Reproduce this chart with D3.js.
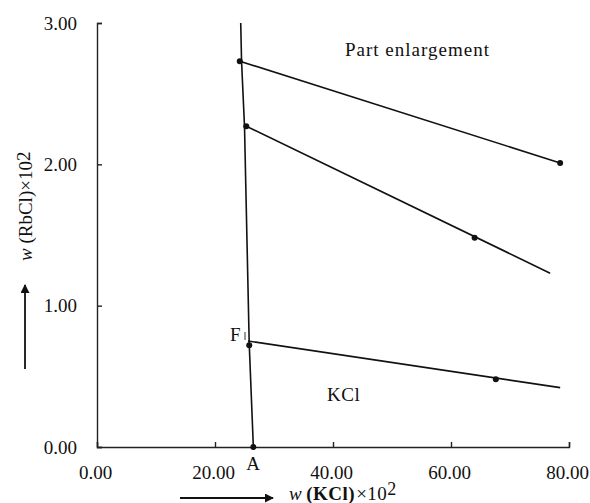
<!DOCTYPE html>
<html>
<head>
<meta charset="utf-8">
<script src="https://cdn.jsdelivr.net/npm/d3@7"></script>
<style>
  body { margin: 0; background: #fff; }
</style>
</head>
<body>
<svg width="590" height="503"></svg>
<script>
// axis ticks
const xTicks = [0, 20, 40, 60, 80];
const yTicks = [0, 1, 2, 3];

// solubility curve (near vertical, through F down to A)
const curveX = [24.36, 24.5, 25.0, 25.8, 26.5];
const curveY = [3.0, 2.73, 2.27, 0.73, 0];

// tie lines
const tieStartX = [24.2, 25.3, 25.6];
const tieStartY = [2.73, 2.27, 0.75];
const tieEndX = [78.5, 76.8, 78.5];
const tieEndY = [2.01, 1.23, 0.42];

// measured points
const pointX = [24.2, 25.3, 25.8, 26.5, 78.5, 64.0, 67.6];
const pointY = [2.73, 2.27, 0.72, 0, 2.01, 1.48, 0.48];

const svg = d3.select("svg");
const x = d3.scaleLinear().domain([0, 80]).range([97, 569]);
const y = d3.scaleLinear().domain([0, 3]).range([447, 23]);
const FONT = '"Liberation Serif", "Times New Roman", serif';
const FS = "19px";

// 축
svg.append("g")
  .attr("transform", `translate(0,${y(0)})`)
  .call(d3.axisBottom(x).tickValues(xTicks).tickFormat(d3.format(".2f"))
    .tickSizeInner(-5).tickSizeOuter(-5).tickPadding(19))
  .call(g => g.attr("font-family", FONT).selectAll("text")
    .style("font-family", FONT).style("font-size", FS).attr("fill", "#111").attr("dx", "-2"));

svg.append("g")
  .attr("transform", `translate(${x(0)},0)`)
  .call(d3.axisLeft(y).tickValues(yTicks).tickFormat(d3.format(".2f"))
    .tickSizeInner(-5).tickSizeOuter(-5).tickPadding(20))
  .call(g => g.attr("font-family", FONT).selectAll("text")
    .style("font-family", FONT).style("font-size", FS).attr("fill", "#111"));

svg.selectAll(".domain, .tick line").attr("stroke", "#222").attr("stroke-width", 1.4);

// 용해도 곡선
const line = d3.line().x(d => x(d[0])).y(d => y(d[1]));
svg.append("path")
  .datum(d3.zip(curveX, curveY))
  .attr("d", line)
  .attr("fill", "none")
  .attr("stroke", "#111")
  .attr("stroke-width", 1.6);

// tie lines
svg.selectAll(".tie")
  .data(d3.range(tieStartX.length))
  .enter()
  .append("line")
  .attr("x1", i => x(tieStartX[i]))
  .attr("y1", i => y(tieStartY[i]))
  .attr("x2", i => x(tieEndX[i]))
  .attr("y2", i => y(tieEndY[i]))
  .attr("stroke", "#111")
  .attr("stroke-width", 1.6);

svg.selectAll(".pt")
  .data(d3.zip(pointX, pointY))
  .enter()
  .append("circle")
  .attr("cx", d => x(d[0]))
  .attr("cy", d => y(d[1]))
  .attr("r", 3)
  .attr("fill", "#111");

// labels
const label = (tx, ty, s) =>
  svg.append("text").attr("x", tx).attr("y", ty)
    .style("font-family", FONT).style("font-size", FS).attr("fill", "#111").text(s);

label(345, 56, "Part enlargement").style("letter-spacing", "1px");
label(327, 401, "KCl").style("letter-spacing", "0.5px");
label(230, 341, "F");
label(253, 470, "A").attr("text-anchor", "middle");
// small mark beside F
svg.append("line").attr("x1", 245).attr("y1", 332).attr("x2", 245).attr("y2", 340)
  .attr("stroke", "#333").attr("stroke-width", 1);

// x title
const xt = svg.append("text").attr("x", 289).attr("y", 500)
  .style("font-family", FONT).style("font-size", FS).style("letter-spacing", "0.5px").attr("fill", "#111");
xt.append("tspan").style("font-style", "italic").text("w");
xt.append("tspan").attr("dx", 4).style("font-weight", "bold").text("(KCl)");
xt.append("tspan").attr("dx", 1).text("×10");
xt.append("tspan").attr("dy", -5).style("font-size", "18px").text("2");

// y title
const yt = svg.append("text")
  .attr("transform", "translate(32,261) rotate(-90)")
  .style("font-family", FONT).style("font-size", FS).attr("fill", "#111");
yt.append("tspan").style("font-style", "italic").text("w");
yt.append("tspan").text(" (RbCl)×10");
yt.append("tspan").attr("dy", -2).text("2");

// arrows
svg.append("defs").append("marker")
  .attr("id", "arr").attr("viewBox", "0 0 10 10").attr("refX", 9).attr("refY", 5)
  .attr("markerWidth", 5).attr("markerHeight", 5).attr("orient", "auto")
  .append("path").attr("d", "M0,0 L10,5 L0,10 z").attr("fill", "#111");

svg.append("line").attr("x1", 180).attr("y1", 498).attr("x2", 273).attr("y2", 498)
  .attr("stroke", "#111").attr("stroke-width", 1.8).attr("marker-end", "url(#arr)");
svg.append("line").attr("x1", 25).attr("y1", 369).attr("x2", 25).attr("y2", 285)
  .attr("stroke", "#111").attr("stroke-width", 1.8).attr("marker-end", "url(#arr)");
</script>
</body>
</html>
